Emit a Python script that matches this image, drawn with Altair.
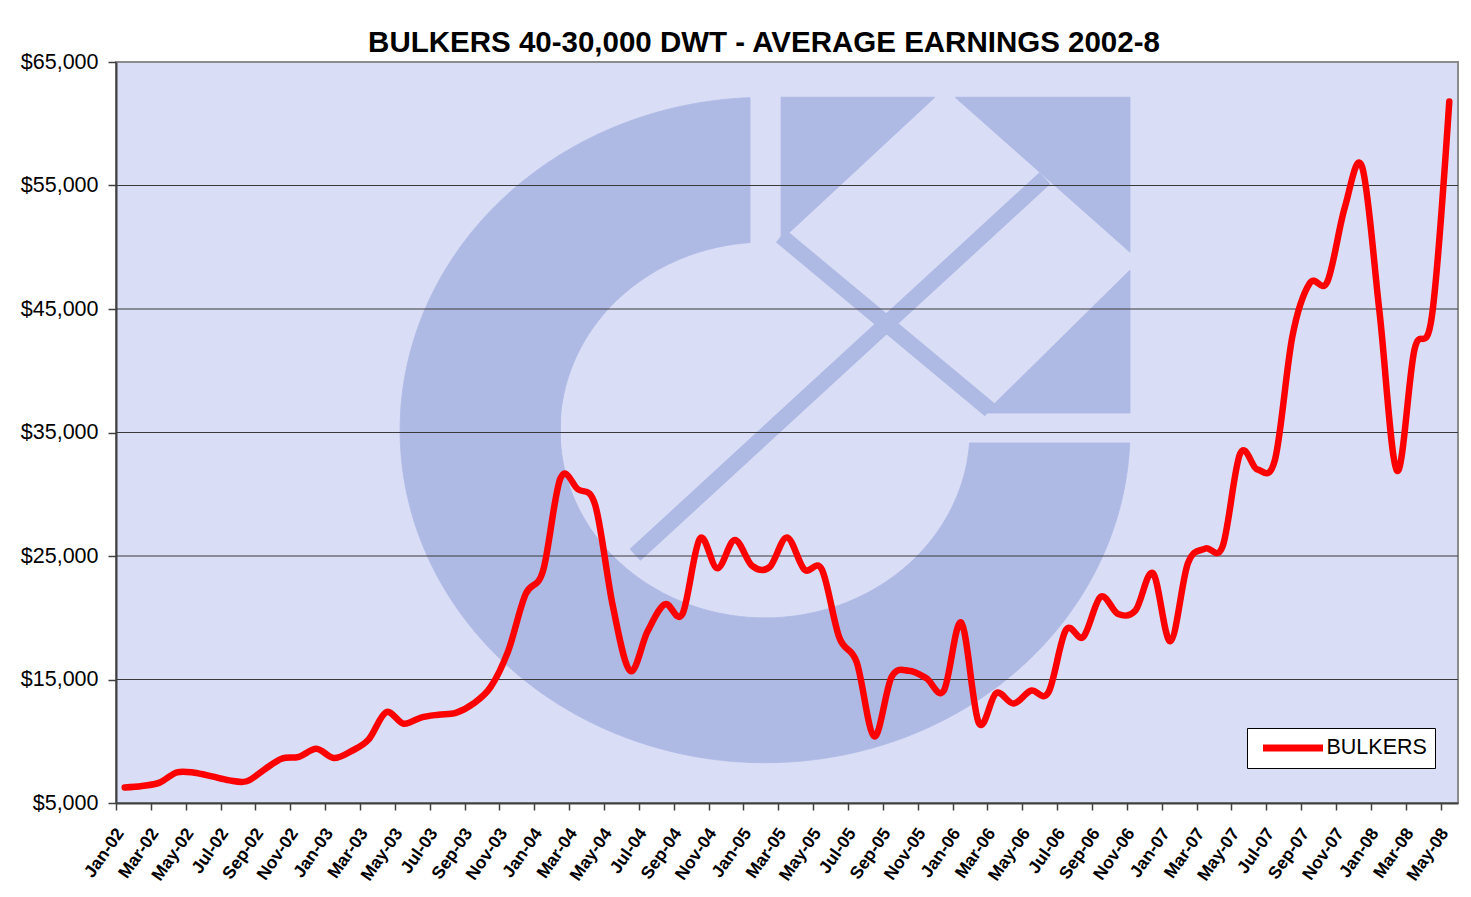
import json
import numpy as np
import pandas as pd
import altair as alt

FONT = "Liberation Sans"

# ---------------- data ----------------
month_names = ["Jan", "Feb", "Mar", "Apr", "May", "Jun",
               "Jul", "Aug", "Sep", "Oct", "Nov", "Dec"]
months = [f"{m}-{y:02d}" for y in range(2, 9) for m in month_names][:77]   # Jan-02 .. May-08
tick_labels = months[::2]                                                   # Jan-02, Mar-02, ... May-08

earnings = [
    6260, 6380, 6650, 7480, 7450, 7150, 6830, 6760, 7700, 8580, 8740, 9390,        # 2002
    8640, 9200, 10150, 12350, 11420, 11920, 12150, 12300, 13050, 14400, 17300, 21900,  # 2003
    23800, 31300, 30400, 29100, 21000, 15700, 18900, 21100, 20300, 26400, 24000, 26300,  # 2004
    24200, 24100, 26500, 23900, 23900, 18400, 16400, 10400, 15200, 15700, 15100, 14100,  # 2005
    19600, 11500, 13900, 13050, 14100, 13950, 19000, 18450, 21700, 20300, 20600, 23600,  # 2006
    18100, 24400, 25600, 25800, 33300, 32000, 32800, 42800, 47100, 47200, 53200, 56500,  # 2007
    44700, 31900, 41700, 44400, 61800,                                               # 2008
]
series_name = "BULKERS"
y_ticks = [5000, 15000, 25000, 35000, 45000, 55000, 65000]
grid_values = [15000, 25000, 35000, 45000, 55000]

df = pd.DataFrame({
    "x": np.arange(len(earnings)) + 0.5,     # category centres
    "y": earnings,
    "month": months,
    "series": series_name,
})

# ---------------- watermark logo (decorative, in data units) ----------------
CX, CY = 37.24, 35200.0
ORX, ORY = 20.94, 26940.0
IRX, IRY = 11.76, 15210.0
CUT_X, CUT_Y = 36.38, 34150.0


def ell(x, rx, ry, sign):
    return CY + sign * ry * np.sqrt(np.clip(1 - ((x - CX) / rx) ** 2, 0, None))


pieces = []
# left solid part of the ring
t = np.linspace(np.pi, np.arccos(-IRX / ORX), 80)
xa = CX + ORX * np.cos(t)
pieces.append(pd.DataFrame({"piece": "A", "x": xa, "y": ell(xa, ORX, ORY, 1), "y2": ell(xa, ORX, ORY, -1)}))
# upper band (up to the vertical cut)
p = np.linspace(np.pi, np.arccos((CUT_X - CX) / IRX), 80)
xb = CX + IRX * np.cos(p)
pieces.append(pd.DataFrame({"piece": "B", "x": xb, "y": ell(xb, ORX, ORY, 1), "y2": ell(xb, IRX, IRY, 1)}))
# lower band
p = np.linspace(np.pi, 0, 160)
xc1 = CX + IRX * np.cos(p)
inner_b = ell(xc1, IRX, IRY, -1)
upper1 = np.where(xc1 > CUT_X, np.minimum(inner_b, CUT_Y), inner_b)
x_end = CX + ORX * np.sqrt(1 - ((CY - CUT_Y) / ORY) ** 2)
q = np.linspace(np.arccos(IRX / ORX), np.arccos((x_end - CX) / ORX), 80)
xc2 = CX + ORX * np.cos(q)
pieces.append(pd.DataFrame({
    "piece": "C",
    "x": np.concatenate([xc1, xc2]),
    "y": np.concatenate([ell(xc1, ORX, ORY, -1), ell(xc2, ORX, ORY, -1)]),
    "y2": np.concatenate([upper1, np.full_like(xc2, CUT_Y)]),
}))
# corner triangles of the arrow square
pieces.append(pd.DataFrame({"piece": "T1", "x": [38.16, 46.99], "y": [62150, 62150], "y2": [50570, 62150]}))
pieces.append(pd.DataFrame({"piece": "T2", "x": [48.14, 58.18], "y": [62150, 62150], "y2": [62150, 49600]}))
pieces.append(pd.DataFrame({"piece": "T3", "x": [49.86, 58.18], "y": [36580, 36580], "y2": [36580, 48150]}))
logo_areas = pd.concat(pieces, ignore_index=True)

logo_bands = pd.DataFrame({
    "band": ["shaft", "shaft", "cross", "cross"],
    "x": [29.78, 53.30, 38.16, 50.15],
    "y": [25090, 55590, 50900, 36820],
})

# ---------------- encodings ----------------
label_expr = json.dumps(tick_labels) + "[round(datum.value / 2)]"

x_enc = alt.X(
    "x:Q",
    scale=alt.Scale(domain=[0, 77], nice=False, zero=False),
    axis=alt.Axis(
        values=list(range(0, 77, 2)), labelExpr=label_expr,
        labelAngle=-55, labelAlign="right", labelBaseline="middle",
        labelFont=FONT, labelFontSize=17.5, labelFontWeight="bold", labelColor="black",
        labelPadding=20, labelOffset=4, labelOverlap=False, labelFlush=False,
        tickSize=7, tickColor="#404040", tickWidth=1.5,
        domainColor="#404040", domainWidth=2, grid=False, title=None,
    ),
)
y_enc = alt.Y(
    "y:Q",
    scale=alt.Scale(domain=[5000, 65000], nice=False, zero=False),
    axis=alt.Axis(
        values=y_ticks, format="$,.0f",
        labelFont=FONT, labelFontSize=21.5, labelColor="black", labelPadding=10,
        tickSize=8, tickColor="#404040", tickWidth=1.5,
        domainColor="#404040", domainWidth=2, grid=False, title=None,
    ),
)

LOGO = "#AEB9E4"

logo_area_layer = alt.Chart(logo_areas).mark_area(
    color=LOGO, opacity=1, stroke=LOGO, strokeWidth=0.8
).encode(x=x_enc, y=y_enc, y2="y2:Q", detail="piece:N")
logo_band_layer = alt.Chart(logo_bands).mark_line(color=LOGO, strokeWidth=16, strokeCap="butt").encode(
    x=x_enc, y=y_enc, detail="band:N"
)
grid_layer = alt.Chart(pd.DataFrame({"y": grid_values})).mark_rule(color="#3a3a3a", strokeWidth=1).encode(
    y=y_enc
)
line_layer = alt.Chart(df).mark_line(
    strokeWidth=6.5, interpolate="cardinal", strokeCap="round", strokeJoin="round"
).encode(
    x=x_enc,
    y=y_enc,
    color=alt.Color(
        "series:N",
        scale=alt.Scale(domain=[series_name], range=["#FF0000"]),
        legend=alt.Legend(
            title=None, orient="none", legendX=1131, legendY=666,
            fillColor="white", strokeColor="black", padding=8, clipHeight=24,
            symbolType="stroke", symbolSize=3600, symbolStrokeWidth=7, symbolOffset=4.5,
            labelOffset=0, labelFont=FONT, labelFontSize=21.5, labelColor="black",
            labelExpr="datum.label + '\u00a0\u00a0\u00a0'",
        ),
    ),
)

chart = (
    alt.layer(logo_area_layer, logo_band_layer, grid_layer, line_layer)
    .properties(
        width=1342, height=741,
        background="white",
        autosize=alt.AutoSizeParams(type="none"),
        padding={"left": 108, "top": 54, "right": 5, "bottom": 84},
        title=alt.TitleParams(
            "BULKERS 40-30,000 DWT - AVERAGE EARNINGS 2002-8",
            font=FONT, fontSize=29.5, fontWeight="bold", color="black",
            anchor="middle", frame="group", dx=-23, dy=40, offset=10, baseline="alphabetic",
        ),
    )
    .configure_view(fill="#D9DEF6", stroke="#8C8C8C", strokeWidth=2)
)

chart.save("out.html", embed_options={"renderer": "svg", "actions": False})
